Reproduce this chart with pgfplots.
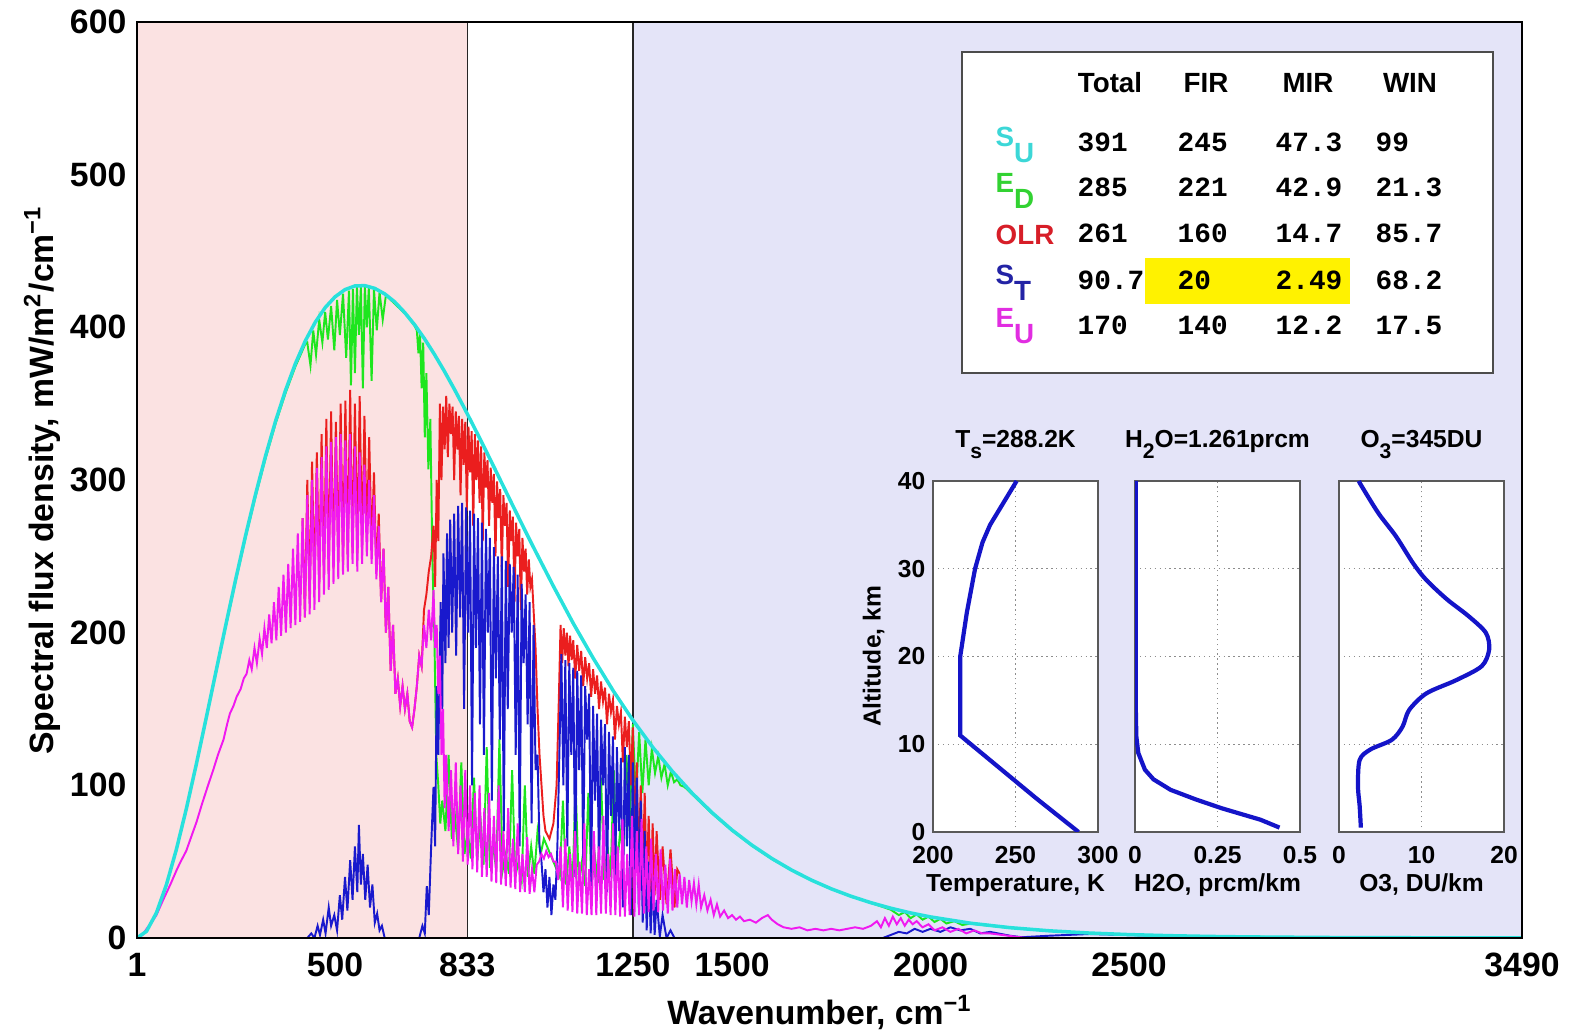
\documentclass[border=0pt]{standalone}
\usepackage{pgfplots}
\pgfplotsset{compat=1.18}
\usepackage{fontspec}
\setmainfont{Liberation Sans}
\setmonofont{Liberation Mono}
\definecolor{cS}{RGB}{40,225,220}
\definecolor{cE}{RGB}{30,230,30}
\definecolor{cR}{RGB}{235,30,30}
\definecolor{cB}{RGB}{25,25,205}
\definecolor{cM}{RGB}{240,25,240}
\definecolor{pinkbg}{RGB}{251,226,226}
\definecolor{lavbg}{RGB}{228,228,248}
\definecolor{hly}{RGB}{255,242,0}
\definecolor{profblue}{RGB}{20,20,200}
\definecolor{tS}{RGB}{60,215,215}
\definecolor{tE}{RGB}{50,210,50}
\definecolor{tR}{RGB}{215,30,40}
\definecolor{tB}{RGB}{35,35,165}
\definecolor{tM}{RGB}{225,45,225}
\newcommand{\mainf}{\fontsize{9.6}{11}\selectfont\bfseries}
\newcommand{\insf}{\fontsize{7}{8.4}\selectfont\bfseries}
\newcommand{\tabhf}{\fontsize{7.9}{9.5}\selectfont\bfseries}
\newcommand{\tabnf}{\fontsize{7.9}{9.5}\selectfont\ttfamily\bfseries}
\begin{document}
\begin{tikzpicture}
\useasboundingbox (-1.37,-0.96) rectangle (14.33,9.38);
\begin{axis}[
 at={(0cm,0cm)}, anchor=south west,
 scale only axis, width=13.85cm, height=9.16cm,
 xmin=1, xmax=3490, ymin=0, ymax=600,
 xtick={1,500,833,1250,1500,2000,2500,3490},
 xticklabels={1,500,833,1250,1500,2000,2500,3490},
 ytick={0,100,200,300,400,500,600},
 yticklabels={0,100,200,300,400,500,600},
 major tick length=0pt,
 ticklabel style={font=\mainf},
 xticklabel style={anchor=base, yshift=-0.39cm},
 yticklabel style={anchor=east, inner sep=0pt, xshift=-0.1cm},
 axis line style={line width=0.6pt},
 axis on top,
 xlabel={Wavenumber, cm\textsuperscript{−1}},
 xlabel style={font=\mainf, at={(axis description cs:0.493,-0.081)}, anchor=center},
 ylabel={Spectral flux density, mW/m\textsuperscript{2}/cm\textsuperscript{−1}},
 ylabel style={font=\mainf, at={(axis description cs:-0.0686,0.5)}, anchor=center},
 table/row sep=\\,
]
\addplot[draw=none, fill=pinkbg] coordinates {(1,600) (833,600)} \closedcycle;
\addplot[draw=none, fill=lavbg] coordinates {(1250,600) (3490,600)} \closedcycle;
\addplot[black!85, line width=0.4pt] coordinates {(833,0) (833,600)};
\addplot[black!85, line width=0.4pt] coordinates {(1250,0) (1250,600)};
% E_D (green)
\addplot[cE, line width=0.55pt] table {
1 0\\ 25 4.4\\ 50 16.4\\ 75 34.6\\ 100 57.5\\ 125 83.9\\ 150 112.7\\ 175 143\\ 200 173.7\\ 225 204.4\\ 250 234.2\\ 275 262.8\\ 300 289.5\\ 325 314.3\\ 350 336.8\\ 375 356.8\\ 400 374.3\\ 425 389.1\\
430 390\\ 438 375\\ 445 398\\ 452 382\\ 460 405\\ 468 390\\ 475 410\\ 482 392\\ 490 414\\ 498 385\\ 505 418\\ 512 395\\ 520 422\\ 528 380\\ 535 424\\ 540 362\\ 545 425\\ 550 370\\ 555 427\\ 560 395\\ 565 427\\ 570 360\\ 575 427\\ 580 400\\ 585 426\\ 592 365\\ 598 425\\ 605 398\\ 612 423\\ 620 405\\ 628 421\\ 640 418\\ 660 413\\ 680 408\\ 700 401\\ 706 398\\ 710 383\\ 714 396\\ 718 360\\ 722 390\\ 726 328\\ 730 370\\ 735 307\\ 740 340\\ 745 250\\ 750 200\\ 755 120\\ 760 100\\ 765 75\\
770 90\\ 778 70\\ 786 120\\ 794 65\\ 802 80\\ 810 58\\ 818 115\\ 826 55\\ 834 70\\ 842 52\\ 850 105\\ 858 50\\ 866 80\\ 874 48\\ 882 125\\ 890 46\\ 898 60\\ 906 45\\ 914 130\\ 922 44\\ 930 55\\ 938 42\\ 946 110\\ 954 40\\ 962 50\\ 970 38\\ 978 100\\ 986 40\\ 994 60\\ 1002 42\\ 1010 70\\ 1018 55\\ 1026 65\\ 1034 60\\ 1042 55\\ 1050 50\\ 1058 45\\ 1066 40\\ 1074 90\\ 1082 35\\ 1090 60\\ 1098 35\\ 1106 100\\ 1114 34\\ 1122 50\\ 1130 34\\ 1138 95\\ 1146 35\\ 1154 55\\ 1162 36\\ 1170 105\\ 1178 38\\ 1186 60\\ 1194 40\\ 1202 110\\ 1210 45\\ 1218 70\\ 1226 55\\ 1234 120\\ 1242 70\\ 1250 140\\ 1258 90\\ 1266 135\\ 1274 95\\ 1282 130\\ 1290 100\\ 1298 124\\ 1306 108\\ 1314 119\\ 1322 105\\ 1330 114\\ 1338 100\\ 1346 109\\ 1354 102\\ 1362 104\\ 1370 100\\ 1380 99\\ 1400 94\\ 1450 81.5\\ 1500 70.3\\ 1550 60.5\\ 1600 51.8\\ 1650 44.3\\ 1700 37.7\\ 1750 32.1\\ 1800 27.2\\ 1850 23\\ 1900 18.5\\ 1920 15\\ 1935 17\\ 1950 13\\ 1965 15.5\\ 1980 12\\ 1995 14\\ 2010 10.5\\ 2025 12.5\\ 2040 9.5\\ 2060 11\\ 2080 8.5\\ 2100 9.4\\ 2150 8\\ 2200 6.6\\ 2300 4.6\\ 2400 3.2\\ 2500 2.2\\ 2700 1.0\\ 3000 0.3\\ 3490 0.04\\
};
% OLR (red)
\addplot[cR, line width=0.55pt] table {
418 275\\ 424 210\\ 430 300\\ 436 222\\ 442 312\\ 448 228\\ 454 318\\ 460 232\\ 466 330\\ 472 236\\ 478 340\\ 484 240\\ 490 345\\ 496 242\\ 502 338\\ 508 246\\ 514 350\\ 520 244\\ 526 352\\ 532 248\\ 538 359\\ 544 252\\ 550 350\\ 556 252\\ 562 355\\ 568 255\\ 574 342\\ 580 262\\ 586 328\\ 592 255\\ 598 305\\ 604 240\\ 610 278\\ 616 220\\ 622 255\\ 628 200\\ 634 230\\ 640 175\\ 646 205\\ 652 160\\ 658 170\\ 664 152\\ 670 165\\ 676 150\\ 682 160\\ 688 142\\ 694 138\\ 700 150\\ 706 165\\ 712 185\\ 718 178\\
724 215\\ 730 225\\ 736 240\\ 742 250\\ 748 270\\ 752 230\\ 756 300\\ 760 260\\ 764 350\\ 768 300\\ 772 348\\ 776 320\\ 780 355\\ 784 315\\ 788 350\\ 792 330\\ 796 348\\ 800 300\\ 804 345\\ 808 320\\ 812 342\\ 816 290\\ 820 340\\ 824 310\\ 828 338\\ 832 280\\ 836 335\\ 840 305\\ 844 332\\ 848 270\\ 852 330\\ 856 300\\ 860 326\\ 864 285\\ 868 322\\ 872 260\\ 876 318\\ 880 295\\ 884 313\\ 888 270\\ 892 308\\ 896 285\\ 900 304\\ 904 250\\ 908 299\\ 912 275\\ 916 294\\ 920 240\\ 924 290\\ 928 270\\ 932 285\\ 936 230\\ 940 280\\ 944 260\\ 948 276\\ 952 220\\ 956 272\\ 960 250\\ 964 268\\ 968 215\\ 972 262\\ 976 240\\ 980 255\\ 984 225\\ 988 248\\ 992 230\\ 996 235\\ 1000 215\\ 1005 190\\ 1010 150\\ 1015 120\\ 1020 100\\ 1025 80\\ 1030 70\\ 1040 65\\ 1050 75\\ 1058 100\\ 1064 160\\ 1068 205\\ 1072 180\\ 1076 203\\ 1080 185\\ 1084 200\\ 1088 178\\ 1092 198\\ 1096 182\\ 1100 195\\ 1105 170\\ 1110 192\\ 1115 175\\ 1120 188\\ 1125 165\\ 1130 184\\ 1135 170\\ 1140 180\\ 1145 158\\ 1150 176\\ 1155 160\\ 1160 172\\ 1165 150\\ 1170 168\\ 1175 155\\ 1180 164\\ 1185 140\\ 1190 160\\ 1195 148\\ 1200 156\\ 1205 130\\ 1210 152\\ 1215 140\\ 1220 148\\ 1225 115\\ 1230 145\\ 1235 125\\ 1240 142\\ 1245 100\\ 1250 138\\ 1255 60\\ 1260 115\\ 1265 45\\ 1270 100\\ 1275 40\\ 1280 95\\ 1285 35\\ 1290 80\\ 1295 30\\ 1300 75\\ 1305 28\\ 1310 70\\ 1318 25\\ 1325 60\\ 1335 22\\ 1345 58\\ 1355 20\\ 1362 45\\ 1368 42\\
};
% S_T (blue)
\addplot[cB, line width=0.55pt] table {
1 0\\ 430 0\\ 440 3\\ 448 0\\ 456 8\\ 462 2\\ 470 12\\ 476 3\\ 484 20\\ 490 8\\ 498 15\\ 505 5\\ 512 28\\ 518 12\\ 525 40\\ 531 18\\ 538 51\\ 544 25\\ 550 60\\ 556 30\\ 560 74\\ 565 35\\ 570 55\\ 576 25\\ 582 48\\ 588 20\\ 594 35\\ 600 10\\ 606 16\\ 612 5\\ 618 8\\ 625 0\\ 712 0\\ 720 8\\ 726 3\\ 731 34\\ 736 15\\ 742 60\\ 748 99\\ 752 60\\ 756 165\\ 760 120\\ 766 220\\ 770 150\\ 773 252\\ 778 180\\ 782 265\\ 786 190\\ 790 274\\ 795 200\\ 800 278\\ 805 185\\ 810 283\\ 815 210\\ 820 285\\ 825 150\\ 830 282\\ 835 200\\ 840 280\\ 845 100\\ 850 278\\ 855 190\\ 860 275\\ 865 140\\ 870 272\\ 875 120\\ 880 268\\ 885 200\\ 890 262\\ 895 90\\ 900 256\\ 905 170\\ 910 250\\ 915 130\\ 920 250\\ 925 70\\ 930 247\\ 935 150\\ 940 245\\ 945 200\\ 950 243\\ 955 120\\ 960 238\\ 965 60\\ 970 232\\ 975 180\\ 980 225\\ 985 140\\ 990 220\\ 995 75\\ 1000 205\\ 1005 110\\ 1010 120\\ 1015 60\\ 1020 50\\ 1025 30\\ 1030 45\\ 1035 20\\ 1040 40\\ 1045 15\\ 1050 35\\ 1055 25\\ 1060 60\\ 1065 120\\ 1070 186\\ 1075 100\\ 1080 182\\ 1085 60\\ 1090 180\\ 1095 120\\ 1100 177\\ 1105 40\\ 1110 175\\ 1115 110\\ 1120 172\\ 1125 50\\ 1130 165\\ 1135 130\\ 1140 160\\ 1145 34\\ 1150 152\\ 1155 90\\ 1160 147\\ 1165 40\\ 1170 143\\ 1175 100\\ 1180 140\\ 1185 30\\ 1190 135\\ 1195 80\\ 1200 132\\ 1205 25\\ 1210 125\\ 1215 70\\ 1220 118\\ 1225 20\\ 1230 125\\ 1235 60\\ 1240 120\\ 1245 15\\ 1250 115\\ 1255 40\\ 1260 105\\ 1265 20\\ 1270 90\\ 1275 10\\ 1280 70\\ 1285 5\\ 1290 50\\ 1295 3\\ 1300 40\\ 1305 2\\ 1310 25\\ 1318 1\\ 1325 15\\ 1335 0\\ 1345 5\\ 1355 0\\ 1880 0\\ 1900 2\\ 1920 4\\ 1940 3\\ 1960 6\\ 1980 4\\ 2000 6\\ 2025 4\\ 2050 7\\ 2075 5\\ 2100 6\\ 2125 3\\ 2150 4\\ 2200 1.5\\ 2230 0.5\\ 2300 1.5\\ 2400 2.6\\ 2500 1.9\\ 2600 1.3\\ 2800 0.6\\ 3000 0.28\\ 3490 0.04\\
};
% E_U (magenta)
\addplot[cM, line width=0.55pt] table {
1 0\\ 15 2\\ 25 6\\ 40 11\\ 50 15\\ 67 25\\ 85 35\\ 100 44\\ 109 49\\ 125 57\\ 140 68\\ 151 76\\ 165 88\\ 180 100\\ 193 110\\ 205 120\\ 219 130\\ 228 140\\ 235 147\\ 244 152\\ 252 158\\ 262 163\\ 270 170\\ 277 173\\ 284 182\\ 290 176\\ 297 190\\ 303 180\\ 310 196\\ 316 186\\ 322 203\\ 328 190\\ 334 212\\ 340 193\\ 346 220\\ 352 195\\ 358 230\\ 364 198\\ 370 238\\ 376 200\\ 382 245\\ 388 203\\ 394 255\\ 400 205\\ 406 265\\ 412 207\\ 418 275\\ 424 210\\ 430 290\\ 436 212\\ 442 300\\ 448 215\\ 454 308\\ 460 220\\ 466 315\\ 472 225\\ 478 322\\ 484 228\\ 490 325\\ 496 232\\ 502 328\\ 508 235\\ 514 330\\ 520 238\\ 526 326\\ 532 240\\ 538 330\\ 544 245\\ 550 322\\ 556 240\\ 562 318\\ 568 245\\ 574 310\\ 580 250\\ 586 300\\ 592 245\\ 598 290\\ 604 235\\ 610 270\\ 616 220\\ 622 255\\ 628 200\\ 634 230\\ 640 175\\ 646 205\\ 652 160\\ 658 170\\ 664 152\\ 670 165\\ 676 150\\ 682 160\\ 688 142\\ 694 138\\ 700 150\\ 706 165\\ 712 185\\ 718 178\\ 724 205\\ 730 190\\ 736 215\\ 742 195\\ 748 228\\ 752 190\\ 756 205\\ 760 160\\ 764 185\\ 768 120\\ 772 150\\ 776 85\\ 780 120\\ 786 70\\ 792 110\\ 798 60\\ 804 115\\ 810 55\\ 816 100\\ 822 50\\ 828 110\\ 834 48\\ 840 100\\ 846 45\\ 852 95\\ 858 43\\ 864 100\\ 870 40\\ 876 85\\ 882 40\\ 888 95\\ 894 37\\ 900 80\\ 906 36\\ 912 100\\ 918 35\\ 924 70\\ 930 34\\ 936 85\\ 942 33\\ 948 65\\ 954 32\\ 960 75\\ 966 30\\ 972 55\\ 978 30\\ 984 66\\ 990 29\\ 996 45\\ 1002 30\\ 1008 48\\ 1014 50\\ 1020 55\\ 1026 52\\ 1032 57\\ 1038 53\\ 1044 55\\ 1050 50\\ 1056 50\\ 1062 38\\ 1068 60\\ 1074 20\\ 1080 65\\ 1086 18\\ 1092 55\\ 1098 17\\ 1104 70\\ 1110 16\\ 1116 50\\ 1122 16\\ 1128 75\\ 1134 15\\ 1140 45\\ 1146 15\\ 1152 70\\ 1158 15\\ 1164 60\\ 1170 16\\ 1176 80\\ 1182 16\\ 1188 55\\ 1194 15\\ 1200 75\\ 1206 15\\ 1212 60\\ 1218 14\\ 1224 78\\ 1230 14\\ 1236 55\\ 1242 15\\ 1248 80\\ 1254 14\\ 1260 70\\ 1266 15\\ 1272 78\\ 1278 16\\ 1284 60\\ 1290 17\\ 1296 65\\ 1302 18\\ 1308 55\\ 1314 17\\ 1320 58\\ 1326 18\\ 1332 48\\ 1338 16\\ 1344 52\\ 1350 18\\ 1356 45\\ 1362 20\\ 1368 42\\ 1374 22\\ 1380 40\\ 1386 20\\ 1392 38\\ 1398 24\\ 1404 36\\ 1410 22\\ 1416 35\\ 1422 20\\ 1430 28\\ 1438 18\\ 1446 25\\ 1454 15\\ 1462 22\\ 1470 14\\ 1480 18\\ 1490 13\\ 1500 15\\ 1510 12\\ 1520 14\\ 1530 11\\ 1545 12\\ 1560 10\\ 1575 13\\ 1590 15\\ 1600 12\\ 1615 9\\ 1630 7\\ 1650 6\\ 1670 7\\ 1690 5\\ 1710 6\\ 1730 5\\ 1750 6\\ 1770 5\\ 1790 6\\ 1810 7\\ 1830 6\\ 1850 8\\ 1865 11\\ 1875 7\\ 1885 13\\ 1895 8\\ 1905 14\\ 1915 9\\ 1925 13\\ 1935 8\\ 1945 12\\ 1955 9\\ 1965 11\\ 1980 7\\ 1995 9\\ 2010 5\\ 2030 7\\ 2050 4\\ 2070 6\\ 2090 3\\ 2110 5\\ 2130 3\\ 2150 3\\ 2180 2\\ 2210 1\\ 2240 0\\ 3490 0\\
};
% S_U (cyan, Planck 288.2 K)
\addplot[cS, line width=1.0pt] table {
1 0.0075\\ 25 4.40\\ 50 16.5\\ 75 34.8\\ 100 57.8\\ 125 84.3\\ 150 113.3\\ 175 143.7\\ 200 174.6\\ 225 205.4\\ 250 235.4\\ 275 264.1\\ 300 291.0\\ 325 315.9\\ 350 338.5\\ 375 358.6\\ 400 376.2\\ 425 391.1\\ 450 403.3\\ 475 412.9\\ 500 420.0\\ 525 424.7\\ 550 427.1\\ 575 427.3\\ 600 425.5\\ 625 421.9\\ 650 416.7\\ 675 409.8\\ 700 401.8\\ 725 392.6\\ 750 382.4\\ 775 371.4\\ 800 359.7\\ 825 347.4\\ 850 334.7\\ 875 321.8\\ 900 308.6\\ 925 295.3\\ 950 282.0\\ 975 268.8\\ 1000 255.8\\ 1050 230.4\\ 1100 206.1\\ 1150 183.4\\ 1200 162.2\\ 1250 142.7\\ 1300 125.0\\ 1350 109.0\\ 1400 94.7\\ 1450 82.0\\ 1500 70.7\\ 1550 60.8\\ 1600 52.1\\ 1650 44.5\\ 1700 37.9\\ 1750 32.2\\ 1800 27.3\\ 1850 23.1\\ 1900 19.5\\ 1950 16.4\\ 2000 13.8\\ 2100 9.70\\ 2200 6.77\\ 2300 4.69\\ 2400 3.24\\ 2500 2.22\\ 2600 1.52\\ 2700 1.03\\ 2800 0.70\\ 3000 0.32\\ 3250 0.12\\ 3490 0.04\\
};
\end{axis}

% ---- flux table ----
\draw[draw=black!70, fill=white, line width=0.5pt] (8.25,5.65) rectangle (13.56,8.86);
\fill[hly] (10.08,6.34) rectangle (12.13,6.80);
\node[font=\tabhf, anchor=base] at (9.73,8.45) {Total};
\node[font=\tabhf, anchor=base] at (10.69,8.45) {FIR};
\node[font=\tabhf, anchor=base] at (11.71,8.45) {MIR};
\node[font=\tabhf, anchor=base] at (12.73,8.45) {WIN};
\node[font=\tabhf, text=tS, anchor=base west, inner sep=0pt] at (8.58,7.91) {S\raisebox{-4.5pt}{U}};
\node[font=\tabhf, text=tE, anchor=base west, inner sep=0pt] at (8.58,7.45) {E\raisebox{-4.5pt}{D}};
\node[font=\tabhf, text=tR, anchor=base west, inner sep=0pt] at (8.58,6.93) {OLR};
\node[font=\tabhf, text=tB, anchor=base west, inner sep=0pt] at (8.58,6.53) {S\raisebox{-4.5pt}{T}};
\node[font=\tabhf, text=tM, anchor=base west, inner sep=0pt] at (8.58,6.10) {E\raisebox{-4.5pt}{U}};
\foreach \y/\a/\b/\c/\d in {7.86/391/245/47.3/99, 7.41/285/221/42.9/21.3, 6.95/261/160/14.7/85.7, 6.48/90.7/20/2.49/68.2, 6.03/170/140/12.2/17.5}{
 \node[font=\tabnf, anchor=base west, inner sep=0pt] at (9.40,\y) {\a};
 \node[font=\tabnf, anchor=base west, inner sep=0pt] at (10.40,\y) {\b};
 \node[font=\tabnf, anchor=base west, inner sep=0pt] at (11.38,\y) {\c};
 \node[font=\tabnf, anchor=base west, inner sep=0pt] at (12.38,\y) {\d};
}

% ---- profile insets ----
\pgfplotsset{inset/.style={
 anchor=south west, scale only axis, width=1.65cm, height=3.51cm,
 ymin=0, ymax=40, ytick={0,10,20,30,40},
 grid=major, grid style={densely dotted, black!45, line width=0.4pt},
 axis background/.style={fill=white},
 axis line style={black!65, line width=0.5pt},
 major tick length=0pt,
 ticklabel style={font=\insf},
 xticklabel style={anchor=base, yshift=-0.32cm},
 yticklabel style={anchor=east, inner sep=0pt, xshift=-0.07cm},
 title style={font=\insf, at={(axis description cs:0.5,1)}, anchor=base, yshift=0.12cm},
 xlabel style={font=\insf, at={(axis description cs:0.5,0)}, anchor=base, yshift=-0.60cm},
}}
\begin{axis}[inset, at={(7.96cm,1.06cm)},
 xmin=200, xmax=300, xtick={200,250,300}, xticklabels={200,250,300},
 yticklabels={0,10,20,30,40},
 title={T\raisebox{-3pt}{\fontsize{6}{6}\selectfont s}=288.2K},
 xlabel={Temperature, K},
 ylabel={Altitude, km},
 ylabel style={font=\insf, at={(axis description cs:-0.36,0.5)}, anchor=center},
]
\addplot[profblue, line width=1.2pt] coordinates {(288.2,0) (262.8,3.8) (216.5,11) (216.5,20) (220.5,25) (225.5,30) (230,33) (234.6,35) (250.7,40)};
\end{axis}
\begin{axis}[inset, at={(9.98cm,1.06cm)},
 xmin=0, xmax=0.5, xtick={0,0.25,0.5}, xticklabels={0,0.25,0.5},
 yticklabels={},
 title={H\raisebox{-3pt}{\fontsize{6}{6}\selectfont 2}O=1.261prcm},
 xlabel={H2O, prcm/km},
]
\addplot[profblue, line width=1.2pt] coordinates {(0.438,0.5) (0.38,1.4) (0.263,2.7) (0.185,3.7) (0.108,4.8) (0.056,6.0) (0.03,7.1) (0.01,9.0) (0.004,10.9) (0.002,15) (0.002,40)};
\end{axis}
\begin{axis}[inset, at={(12.02cm,1.06cm)},
 xmin=0, xmax=20, xtick={0,10,20}, xticklabels={0,10,20},
 yticklabels={},
 title={O\raisebox{-3pt}{\fontsize{6}{6}\selectfont 3}=345DU},
 xlabel={O3, DU/km},
]
\addplot[profblue, line width=1.2pt, smooth] coordinates {(2.65,0.5) (2.5,3) (2.3,5.2) (2.5,8.2) (3.8,9.4) (6.4,10.5) (7.7,12) (8.5,13.9) (10.6,15.8) (14.2,17.3) (17.3,18.9) (18.2,20.8) (17.8,22.7) (15.7,24.6) (13.1,26.5) (10.6,28.7) (9,30.6) (6.9,33.7) (4.8,36.3) (2.75,39.4) (2.4,40)};
\end{axis}
\end{tikzpicture}
\end{document}
